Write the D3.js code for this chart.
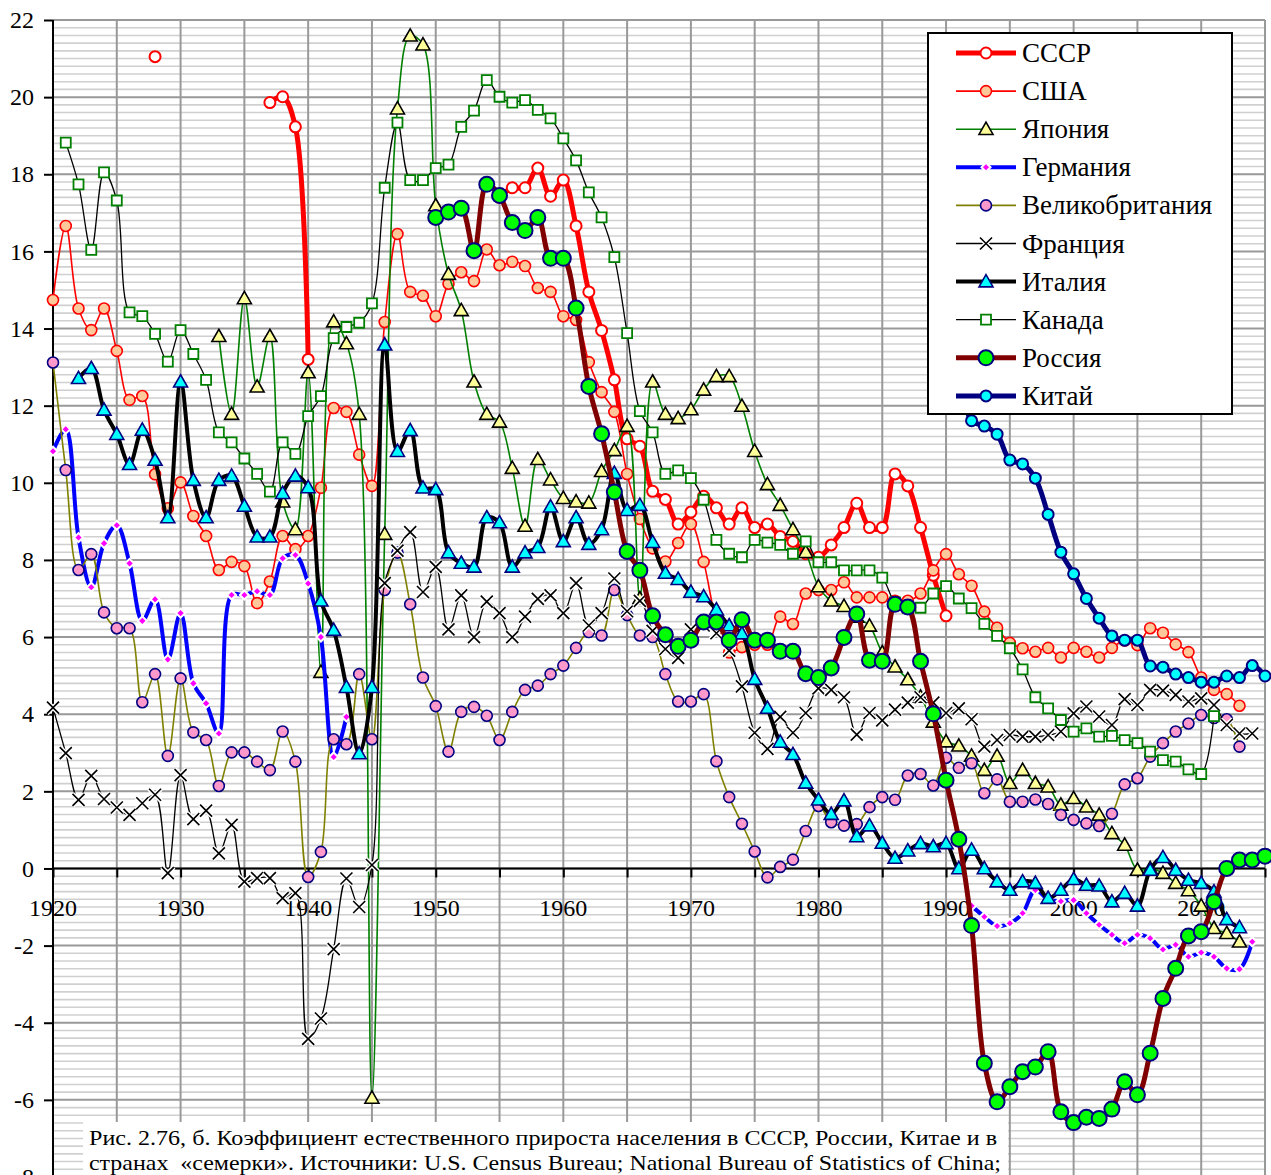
<!DOCTYPE html>
<html lang="ru">
<head>
<meta charset="utf-8">
<script src="https://cdn.jsdelivr.net/npm/d3@7"></script>
<style>
  html, body { margin: 0; padding: 0; background: #fff; }
  svg { display: block; font-family: "Liberation Serif", "Times New Roman", serif; }
</style>
</head>
<body>
<div id="chart"></div>
<script>
/*****************************************************
 * DATA  (natural increase, per 1000)
 *****************************************************/
const xLabels = [1920, 1930, 1940, 1950, 1960, 1970, 1980, 1990, 2000, 2010];
const yTicks = [-8, -6, -4, -2, 0, 2, 4, 6, 8, 10, 12, 14, 16, 18, 20, 22];

// СССР
const ussr1928 = [21.05];
const ussr1937 = [19.86, 20.01, 19.23, 13.2];
const ussr1955 = [17.4, 17.65, 17.65, 18.16, 17.43, 17.85, 16.66, 14.95, 13.95, 12.67,
  11.14, 10.95, 9.78, 9.57, 8.93, 9.24, 9.65, 9.35, 8.93, 9.35,
  8.84, 8.93, 8.61, 8.48, 8.16, 8.07, 8.39, 8.84, 9.47, 8.84,
  8.84, 10.23, 9.92, 8.84, 7.6, 6.55];

// США
const usa1920 = [14.74, 16.66, 14.52, 13.96, 14.52, 13.42, 12.15, 12.25, 10.22, 9.34,
  10.01, 9.14, 8.62, 7.74, 7.95, 7.84, 6.88, 7.44, 8.62, 8.28,
  8.62, 9.87, 11.94, 11.84, 10.73, 9.92, 14.17, 16.45, 14.95, 14.85,
  14.32, 15.16, 15.46, 15.23, 16.05, 15.64, 15.73, 15.62, 15.05, 14.95,
  14.32, 14.22, 13.13, 12.35, 11.84, 10.23, 9.06, 8.3, 7.96, 8.44,
  8.93, 7.95, 6.4, 5.6, 5.74, 5.8, 5.8, 6.53, 6.34, 7.13,
  7.22, 7.22, 7.42, 7.03, 7.03, 7.03, 6.94, 6.94, 7.13, 7.73,
  8.15, 7.63, 7.33, 6.66, 6.24, 5.85, 5.71, 5.62, 5.72, 5.47,
  5.72, 5.62, 5.47, 5.72, 5.91, 5.79, 6.23, 6.11, 5.81, 5.61,
  4.95, 4.63, 4.52, 4.22];

// Япония
const japan1933 = [13.8, 11.78, 14.78, 12.49, 13.8, 9.51, 8.79,
  12.86, 5.09, 14.18, 13.61, 11.78, -5.95, 8.67, 19.7, 21.59, 21.36,
  17.19, 15.41, 14.47, 12.62, 11.78, 11.58, 10.38, 8.88, 10.61, 10.08,
  9.6, 9.51, 9.48, 10.3, 10.84, 11.47, 7.0, 12.62, 11.78, 11.67,
  11.9, 12.41, 12.76, 12.76, 11.99, 10.82, 9.96, 9.42, 8.79, 8.2,
  7.31, 6.94, 6.8, 6.52, 6.29, 5.6, 5.23, 4.9, 4.45, 3.8,
  3.29, 3.18, 2.92, 2.55, 2.92, 2.21, 2.55, 2.21, 2.12, 1.65,
  1.82, 1.6, 1.39, 0.91, 0.61, -0.04, 0.0, -0.12, -0.38, -0.57,
  -0.97, -1.55, -1.68, -1.9];

// Германия
const germany1920 = [10.82, 11.39, 8.58, 7.29, 8.43, 8.9, 7.91, 6.42, 6.98, 5.42,
  6.62, 4.8, 4.28, 3.5, 7.09, 7.09, 7.19, 7.09, 8.04, 8.13,
  7.39, 6.0, 2.89, 3.93];
const germany1992 = [-0.97, -1.25, -1.49, -1.42, -1.16, -0.56, -0.8, -0.85,
  -0.82, -1.16, -1.46, -1.72, -1.94, -1.72, -1.81, -2.1, -1.98, -2.29,
  -2.18, -2.29, -2.59, -2.61, -1.9];

// Великобритания
const uk1920 = [13.12, 10.33, 7.74, 8.15, 6.64, 6.23, 6.23, 4.31, 5.04, 2.92,
  4.93, 3.53, 3.33, 2.14, 3.01, 3.01, 2.77, 2.55, 3.55, 2.77,
  -0.22, 0.43, 3.35, 3.22, 5.04, 3.35, 7.22, 8.19, 6.85, 4.95,
  4.21, 3.03, 4.06, 4.19, 3.96, 3.33, 4.06, 4.63, 4.74, 5.04,
  5.26, 5.72, 6.13, 6.04, 7.22, 6.57, 6.04, 6.0, 5.04, 4.33,
  4.33, 4.52, 2.78, 1.85, 1.16, 0.44, -0.23, 0.04, 0.23, 0.97,
  1.62, 1.2, 1.11, 1.15, 1.59, 1.85, 1.78, 2.41, 2.45, 2.15,
  2.87, 2.61, 2.73, 1.95, 2.31, 1.73, 1.73, 1.79, 1.67, 1.39,
  1.26, 1.17, 1.1, 1.42, 2.18, 2.34, 2.9, 3.25, 3.55, 3.76,
  3.98, 3.9, 3.87, 3.16];

// Франция
const france1920 = [4.17, 2.99, 1.78, 2.4, 1.8, 1.58, 1.39, 1.69, 1.91, -0.12,
  2.42, 1.28, 1.5, 0.39, 1.13, -0.34, -0.25, -0.25, -0.77, -0.64,
  -4.42, -3.89, -2.09, -0.26, -1.0, 0.09, 7.4, 8.24, 8.72, 7.17,
  7.82, 6.2, 7.08, 6.0, 6.92, 6.62, 6.0, 6.53, 6.99, 7.08,
  6.62, 7.4, 6.3, 6.62, 7.52, 6.67, 6.94, 6.16, 5.69, 5.46,
  6.2, 6.3, 6.1, 5.65, 4.72, 3.52, 3.1, 3.93, 3.52, 4.03,
  4.67, 4.63, 4.44, 3.47, 4.03, 3.84, 4.12, 4.3, 4.44, 4.3,
  4.03, 4.15, 3.87, 3.16, 3.33, 3.46, 3.42, 3.42, 3.46, 3.55,
  4.02, 4.2, 3.94, 3.72, 4.39, 4.24, 4.63, 4.61, 4.5, 4.33,
  4.41, 4.24, 3.72, 3.5, 3.5];

// Италия
const italy1922 = [12.71, 12.97, 11.89, 11.26, 10.48, 11.37, 10.59, 9.1,
  12.62, 10.07, 9.1, 10.07, 10.18, 9.4, 8.6, 8.6, 9.73, 10.18,
  9.88, 6.94, 6.18, 4.7, 2.98, 4.7, 13.58, 10.82, 11.36, 9.87,
  9.83, 8.19, 7.92, 7.82, 9.1, 8.97, 7.82, 8.19, 8.33, 9.38,
  8.48, 9.1, 8.41, 8.79, 10.25, 9.29, 9.42, 8.46, 7.66, 7.5,
  7.17, 7.05, 6.71, 6.3, 6.09, 4.91, 4.16, 3.28, 2.96, 2.22,
  1.78, 1.41, 1.76, 0.83, 1.11, 0.66, 0.27, 0.46, 0.65, 0.57,
  0.65, 0.0, 0.48, 0.0, -0.34, -0.56, -0.34, -0.38, -0.77, -0.56,
  -0.28, -0.43, -0.45, -0.86, -0.64, -0.97, -0.04, 0.29, -0.04, -0.3,
  -0.38, -0.6, -1.32, -1.53];

// Канада
const canada1921 = [18.82, 17.74, 16.04, 18.05, 17.32, 14.42, 14.32, 13.86, 13.14,
  13.96, 13.34, 12.67, 11.31, 11.05, 10.63, 10.23, 9.77, 11.05, 10.75,
  11.73, 12.25, 13.75, 14.04, 14.15, 14.65, 17.65, 19.34, 17.85, 17.85,
  18.16, 18.25, 19.23, 19.65, 20.44, 20.01, 19.86, 19.92, 19.67, 19.45,
  18.93, 18.36, 17.53, 16.88, 15.85, 13.88, 11.86, 11.31, 10.23, 10.32,
  10.12, 9.56, 8.52, 8.16, 8.07, 8.52, 8.45, 8.39, 8.16, 8.48,
  7.94, 7.94, 7.73, 7.73, 7.73, 7.54, 6.9, 6.76, 6.76, 7.13,
  7.32, 7.0, 6.75, 6.34, 6.03, 5.71, 5.16, 4.44, 4.15, 3.85,
  3.55, 3.63, 3.42, 3.44, 3.33, 3.25, 3.03, 2.81, 2.77, 2.57,
  2.45, 3.95];

// Россия
const russia1950 = [16.88, 17.02, 17.12, 16.02, 17.74, 17.45, 16.75, 16.54, 16.88, 15.82,
  15.82, 14.53, 12.5, 11.27, 9.76, 8.22, 7.73, 6.55, 6.06, 5.76,
  5.92, 6.39, 6.39, 5.92, 6.45, 5.92, 5.92, 5.63, 5.63, 5.05,
  4.95, 5.2, 5.99, 6.6, 5.4, 5.37, 6.85, 6.78, 5.37, 4.01,
  2.29, 0.76, -1.48, -5.05, -6.05, -5.66, -5.27, -5.15, -4.75, -6.31,
  -6.59, -6.45, -6.48, -6.24, -5.53, -5.87, -4.79, -3.37, -2.59, -1.75,
  -1.64, -0.86, 0.0, 0.22, 0.22, 0.32];

// Китай
const china1990 = [14.39, 12.98, 11.61, 11.47, 11.26, 10.59, 10.49, 10.12, 9.18, 8.2,
  7.64, 7.0, 6.49, 6.03, 5.92, 5.92, 5.25, 5.22, 5.04, 4.95,
  4.83, 4.83, 4.99, 4.95, 5.26, 4.99];

const captionLines = [
  "Рис. 2.76, б. Коэффициент естественного прироста населения в СССР, России, Китае и в",
  "странах  «семерки». Источники: U.S. Census Bureau; National Bureau of Statistics of China;"
];

/*****************************************************
 * SERIES STYLES
 *****************************************************/
const series = [
  { name: "СССР", segs: [[1928, ussr1928], [1937, ussr1937], [1955, ussr1955]],
    color: "#FF0000", width: 5, marker: "circle", r: 5.5, fill: "#FFFFFF", mstroke: "#FF0000", msw: 2 },
  { name: "США", segs: [[1920, usa1920]],
    color: "#FF0000", width: 1.6, marker: "circle", r: 5.5, fill: "#FFC89A", mstroke: "#FF0000", msw: 1.6 },
  { name: "Япония", segs: [[1933, japan1933]],
    color: "#008000", width: 1.6, marker: "triangle", r: 7, fill: "#FFFF99", mstroke: "#000000", msw: 1.6 },
  { name: "Германия", segs: [[1920, germany1920], [1992, germany1992]],
    color: "#0000FF", width: 4, marker: "diamond", r: 4.5, fill: "#FF00FF", mstroke: "#FFFFFF", msw: 2 },
  { name: "Великобритания", segs: [[1920, uk1920]],
    color: "#808000", width: 1.6, marker: "circle", r: 5.5, fill: "#FF99CC", mstroke: "#000080", msw: 1.6 },
  { name: "Франция", segs: [[1920, france1920]],
    color: "#000000", width: 1.3, marker: "cross", r: 6, fill: "none", mstroke: "#000000", msw: 1.6 },
  { name: "Италия", segs: [[1922, italy1922]],
    color: "#000000", width: 4, marker: "triangle", r: 7, fill: "#00FFFF", mstroke: "#000080", msw: 1.6 },
  { name: "Канада", segs: [[1921, canada1921]],
    color: "#000000", width: 1.3, marker: "square", r: 5, fill: "#FFFFFF", mstroke: "#008000", msw: 1.8 },
  { name: "Россия", segs: [[1950, russia1950]],
    color: "#800000", width: 5, marker: "circle", r: 7.5, fill: "#00FF00", mstroke: "#000080", msw: 2 },
  { name: "Китай", segs: [[1990, china1990]],
    color: "#000080", width: 5, marker: "circle", r: 5.5, fill: "#00FFFF", mstroke: "#000080", msw: 2 }
];

/*****************************************************
 * LAYOUT
 *****************************************************/
const width = 1271, height = 1175;

const x = d3.scaleLinear().domain([1920, 2015]).range([53, 1265]);
const y = d3.scaleLinear().domain([-8, 22]).range([1177, 20]);

const svg = d3.select("#chart")
  .append("svg")
  .attr("width", width)
  .attr("height", height);

/*****************************************************
 * GRID
 *****************************************************/
const grid = svg.append("g");

// minor lines every 0.2
const minor = d3.range(0, 151).map(i => -8 + i * 0.2).filter((v, i) => i % 10 !== 0);
grid.selectAll(".minor")
  .data(minor)
  .enter()
  .append("line")
  .attr("x1", x(1920)).attr("x2", x(2015))
  .attr("y1", d => y(d)).attr("y2", d => y(d))
  .attr("stroke", "#D0D0D0")
  .attr("stroke-width", 1.6);

grid.selectAll(".major")
  .data(yTicks)
  .enter()
  .append("line")
  .attr("x1", x(1920)).attr("x2", x(2015))
  .attr("y1", d => y(d)).attr("y2", d => y(d))
  .attr("stroke", "#999999")
  .attr("stroke-width", 2);

grid.selectAll(".vert")
  .data(d3.range(1925, 2016, 5))
  .enter()
  .append("line")
  .attr("x1", d => x(d)).attr("x2", d => x(d))
  .attr("y1", y(22)).attr("y2", height)
  .attr("stroke", "#999999")
  .attr("stroke-width", 2);

/*****************************************************
 * AXES
 *****************************************************/
const yAxis = d3.axisLeft(y)
  .tickValues(yTicks)
  .tickSize(9)
  .tickPadding(10)
  .tickFormat(d => d);

svg.append("g")
  .attr("transform", `translate(${x(1920)},0)`)
  .call(yAxis)
  .call(g => g.attr("font-family", null))
  .call(g => g.select(".domain").remove())
  .call(g => g.selectAll("line").attr("stroke", "#000").attr("stroke-width", 2))
  .call(g => g.selectAll("text")
    .attr("font-size", 24)
    .attr("fill", "#000"));

const xAxis = d3.axisBottom(x)
  .tickValues(d3.range(1920, 2016, 5))
  .tickSize(9)
  .tickFormat("");

svg.append("g")
  .attr("transform", `translate(0,${y(0)})`)
  .call(xAxis)
  .call(g => g.select(".domain").remove())
  .call(g => g.selectAll("line").attr("stroke", "#000").attr("stroke-width", 2));

svg.append("g")
  .selectAll("text")
  .data(xLabels)
  .enter()
  .append("text")
  .attr("x", d => x(d))
  .attr("y", y(0) + 48)
  .attr("text-anchor", "middle")
  .attr("font-size", 24)
  .text(d => d);

// axis lines
svg.append("line")
  .attr("x1", x(1920)).attr("x2", x(2015))
  .attr("y1", y(0)).attr("y2", y(0))
  .attr("stroke", "#000").attr("stroke-width", 2);

svg.append("line")
  .attr("x1", x(1920)).attr("x2", x(1920))
  .attr("y1", y(22)).attr("y2", height)
  .attr("stroke", "#000").attr("stroke-width", 2);

/*****************************************************
 * MARKERS
 *****************************************************/
function markerPath(type, r) {
  if (type === "triangle") return `M0,${-r}L${r},${r * 0.75}L${-r},${r * 0.75}Z`;
  if (type === "diamond") return `M0,${-r}L${r},0L0,${r}L${-r},0Z`;
  if (type === "square") return `M${-r},${-r}H${r}V${r}H${-r}Z`;
  if (type === "cross") return `M${-r},${-r}L${r},${r}M${-r},${r}L${r},${-r}`;
  return null;
}

function drawMarker(g, s, cx, cy) {
  if (s.marker === "circle") {
    g.append("circle")
      .attr("cx", cx).attr("cy", cy).attr("r", s.r)
      .attr("fill", s.fill)
      .attr("stroke", s.mstroke)
      .attr("stroke-width", s.msw);
    return;
  }
  const p = markerPath(s.marker, s.r);
  if (s.marker === "cross") {
    g.append("path")
      .attr("transform", `translate(${cx},${cy})`)
      .attr("d", p)
      .attr("stroke", "#FFFFFF")
      .attr("stroke-width", 4.5);
  }
  g.append("path")
    .attr("transform", `translate(${cx},${cy})`)
    .attr("d", p)
    .attr("fill", s.fill)
    .attr("stroke", s.mstroke)
    .attr("stroke-width", s.msw)
    .attr("stroke-linejoin", "miter");
}

/*****************************************************
 * SERIES
 *****************************************************/
const line = d3.line()
  .x(d => x(d.year))
  .y(d => y(d.value))
  .curve(d3.curveCatmullRom.alpha(0.5));

const plot = svg.append("g");

series.forEach(s => {
  const g = plot.append("g");
  const pts = [];

  s.segs.forEach(([start, vals]) => {
    const seg = vals.map((v, i) => ({ year: start + i, value: v }));
    if (seg.length > 1) {
      g.append("path")
        .datum(seg)
        .attr("d", line)
        .attr("fill", "none")
        .attr("stroke", s.color)
        .attr("stroke-width", s.width)
        .attr("stroke-linejoin", "round")
        .attr("stroke-linecap", "round");
    }
    pts.push(...seg);
  });

  pts.forEach(d => drawMarker(g, s, x(d.year), y(d.value)));
});

/*****************************************************
 * LEGEND
 *****************************************************/
const legend = svg.append("g");

legend.append("rect")
  .attr("x", 928).attr("y", 33)
  .attr("width", 304).attr("height", 381)
  .attr("fill", "#FFFFFF")
  .attr("stroke", "#000")
  .attr("stroke-width", 2);

series.forEach((s, i) => {
  const ly = 53 + i * 38.1;
  const row = legend.append("g");

  row.append("line")
    .attr("x1", 956).attr("x2", 1016)
    .attr("y1", ly).attr("y2", ly)
    .attr("stroke", s.color)
    .attr("stroke-width", s.width);

  drawMarker(row, s, 986, ly);

  row.append("text")
    .attr("x", 1022)
    .attr("y", ly + 9)
    .attr("font-size", 27)
    .attr("fill", "#000")
    .text(s.name);
});

/*****************************************************
 * CAPTION
 *****************************************************/
svg.append("rect")
  .attr("x", 83).attr("y", 1122)
  .attr("width", 925).attr("height", 60)
  .attr("fill", "#FFFFFF");

svg.selectAll(".caption")
  .data(captionLines)
  .enter()
  .append("text")
  .attr("x", 89)
  .attr("y", (d, i) => 1145 + i * 25)
  .attr("font-size", 22)
  .attr("textLength", (d, i) => i === 0 ? 908 : 912)
  .attr("lengthAdjust", "spacingAndGlyphs")
  .style("white-space", "pre")
  .attr("fill", "#000")
  .text(d => d);
</script>
</body>
</html>
